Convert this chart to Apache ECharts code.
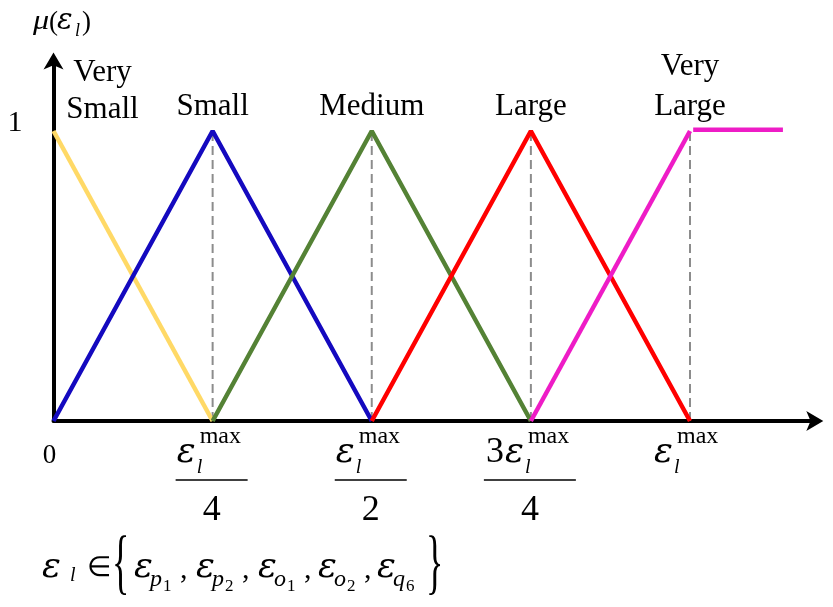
<!DOCTYPE html>
<html><head><meta charset="utf-8">
<script src="https://cdn.jsdelivr.net/npm/echarts@6/dist/echarts.min.js"></script>
<style>html,body{margin:0;padding:0;background:#fff}#c{width:833px;height:607px}</style>
</head><body><div id="c"></div>
<script>
// ---- data ----
const categories = ['Very\nSmall', 'Small', 'Medium', 'Large', 'Very\nLarge'];
const peakX = [0, 0.25, 0.5, 0.75, 1];
const verySmall = [[0, 1], [0.25, 0]];
const small = [[0, 0], [0.25, 1], [0.5, 0]];
const medium = [[0.25, 0], [0.5, 1], [0.75, 0]];
const large = [[0.5, 0], [0.75, 1], [1, 0]];
const veryLarge = [[0.75, 0], [1, 1]];
const veryLargeFlat = [[1.005, 1.004], [1.146, 1.004]];
const guideX = [0.25, 0.5, 0.75, 1];
const tickValues = [0, 0.25, 0.5, 0.75, 1];
const tickCoef = ['', '', '', '3', ''];
const tickDenom = ['', '4', '2', '4', ''];
const yTickValue = 1;
const yTickLabel = '1';
const setItems = [['p', '1'], ['p', '2'], ['o', '1'], ['o', '2'], ['q', '6']];
const colors = ['#FFD966', '#1409BF', '#548235', '#FF0000', '#EE1CC6'];

const chart = echarts.init(document.getElementById('c'), null, {renderer: 'canvas'});
const FONT = '"Liberation Serif", "Times New Roman", serif';
const GFONT = '"DejaVu Serif", serif';

function lineSeries(data, color, z) {
  return {type: 'line', data: data, symbol: 'none', silent: true, z: z || 3,
    lineStyle: {color: color, width: 4.5}, animation: false};
}
const series = [];
guideX.forEach(function (x) {
  series.push({type: 'line', data: [[x, 0], [x, 1]], symbol: 'none', silent: true, z: 2, animation: false,
    lineStyle: {color: '#8c8c8c', width: 2, type: [9, 5]}});
});
series.push(lineSeries(verySmall, colors[0]));
series.push(lineSeries(small, colors[1]));
series.push(lineSeries(medium, colors[2]));
series.push(lineSeries(large, colors[3]));
series.push(lineSeries(veryLarge, colors[4]));
series.push(lineSeries(veryLargeFlat, colors[4]));

const axisCommon = {
  type: 'value', min: 0,
  axisLine: {show: true, onZero: true, symbol: ['none', 'arrow'], symbolSize: [15, 17],
    symbolOffset: [0, 6], lineStyle: {color: '#000', width: 4}},
  axisTick: {show: false}, axisLabel: {show: false}, splitLine: {show: false}
};

chart.setOption({
  animation: false,
  grid: {left: 53.5, right: 15.7, top: 58.5, bottom: 186, containLabel: false},
  xAxis: Object.assign({}, axisCommon, {max: 1.2}),
  yAxis: Object.assign({}, axisCommon, {max: 1.25}),
  series: series
});

function T(x, base, text, size, italic, align, sx, font) {
  return {type: 'text', silent: true, z: 10, x: x, y: base - 0.34 * size, scaleX: sx || 1,
    style: {text: text, x: 0, y: 0, fill: '#000',
      font: (italic ? 'italic ' : '') + size + 'px ' + (font || FONT),
      align: align || 'left', verticalAlign: 'middle'}};
}
function E(x, base, size) { return T(x, base, 'ε', size * 0.88, true, 'left', 1, GFONT); }
function HL(x1, x2, y) {
  return {type: 'line', silent: true, z: 10, shape: {x1: x1, y1: y, x2: x2, y2: y},
    style: {stroke: '#000', lineWidth: 1.6}};
}

const g = [];
const y0 = chart.convertToPixel({yAxisIndex: 0}, 0);
const y1 = chart.convertToPixel({yAxisIndex: 0}, yTickValue);
const x0 = chart.convertToPixel({xAxisIndex: 0}, 0);

// y tick label and axis name
g.push(T(x0 - 46, y1 + 2, yTickLabel, 30, false, 'left'));
g.push(T(33, 31, 'μ', 28, true, 'left', 1.15));
g.push(T(49, 32, '(', 27, false));
g.push(E(57, 31, 33));
g.push(T(75, 37, 'l', 18, true));
g.push(T(82, 32, ')', 27, false));

// category labels
categories.forEach(function (c, i) {
  const px = chart.convertToPixel({xAxisIndex: 0}, peakX[i]);
  const lines = c.split('\n');
  if (lines.length === 2) {
    const cx = i === 0 ? px + 49 : px;
    const lh = i === 0 ? 37 : 40;
    const b2 = i === 0 ? y1 - 11 : y1 - 14;
    g.push(T(cx, b2 - lh, lines[0], 31, false, 'center'));
    g.push(T(cx, b2, lines[1], 31, false, 'center'));
  } else {
    g.push(T(px, y1 - 14, lines[0], 31, false, 'center'));
  }
});

// x tick labels
const baseE = y0 + 44;
tickValues.forEach(function (v, i) {
  const px = chart.convertToPixel({xAxisIndex: 0}, v);
  if (v === 0) {
    g.push(T(px - 4, baseE, '0', 27, false, 'center'));
    return;
  }
  let shift = 0;
  if (tickCoef[i]) {
    g.push(T(px - 45, baseE, tickCoef[i], 36, false));
    shift = 10;
  }
  const el = px - 36 + shift;
  g.push(E(el, baseE, 40));
  g.push(T(el + 20, baseE + 10, 'l', 20, true));
  g.push(T(el + 23, baseE - 20, 'max', 24, false));
  if (tickDenom[i]) {
    const w = tickCoef[i] ? 47 : 37;
    g.push(HL(px - w, px + w - 2, y0 + 59));
    g.push(T(px - 1, y0 + 102, tickDenom[i], 36, false, 'center'));
  }
});

// set formula
const fb = 580;
g.push(E(42, fb, 40));
g.push(T(70, fb + 3, 'l', 20, true));
g.push(T(87, fb - 2, '∈', 28, false));
g.push({type: 'text', silent: true, z: 10, x: 112, y: fb + 11, scaleX: 0.5,
  style: {text: '{', x: 0, y: -0.34 * 72, font: '72px ' + FONT, fill: '#000',
    align: 'left', verticalAlign: 'middle'}});
const itemX = [134, 196, 258, 318, 377];
setItems.forEach(function (it, k) {
  const e = itemX[k];
  g.push(E(e, fb, 40));
  g.push(T(e + 16, fb + 8, it[0], 24, true));
  g.push(T(e + 29, fb + 12, it[1], 17, false));
  if (k < setItems.length - 1) g.push(T(e + 46, fb, ',', 30, false));
});
g.push({type: 'text', silent: true, z: 10, x: 426, y: fb + 11, scaleX: 0.5,
  style: {text: '}', x: 0, y: -0.34 * 72, font: '72px ' + FONT, fill: '#000',
    align: 'left', verticalAlign: 'middle'}});

chart.setOption({graphic: {elements: g}});
</script>
</body></html>
